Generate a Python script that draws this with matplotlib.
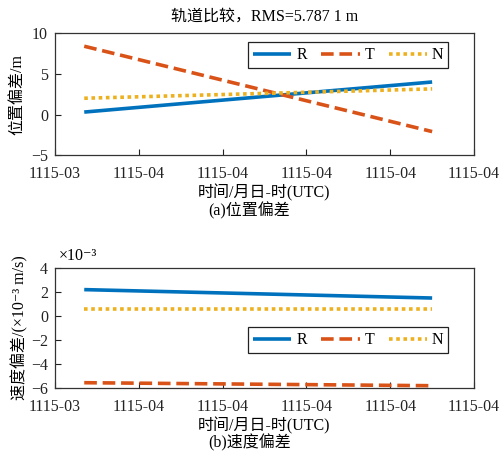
import matplotlib
matplotlib.use("Agg")
import matplotlib.pyplot as plt

plt.rcParams['font.family'] = ['Liberation Serif', 'Noto Sans CJK SC', 'DejaVu Sans']
plt.rcParams['axes.unicode_minus'] = True

# ---- data ----
tick_labels = ['1115-03', '1115-04', '1115-04', '1115-04', '1115-04', '1115-04']
t = [0.35, 4.5]                      # start / end epoch (tick units)
pos_R = [0.3, 4.0]
pos_T = [8.4, -2.1]
pos_N = [2.0, 3.15]
vel_R = [2.2, 1.5]                   # ×10^-3 m/s
vel_T = [-5.55, -5.8]
vel_N = [0.6, 0.6]
rms_text = '轨道比较，RMS=5.787 1 m'

c_R = '#0072BD'
c_T = '#D95319'
c_N = '#EDB120'
FS = 11.5

fig = plt.figure(figsize=(4.99, 4.55), dpi=100)
ax1 = fig.add_axes([0.110, 0.659, 0.840, 0.268])
ax2 = fig.add_axes([0.110, 0.147, 0.840, 0.264])

def style(ax):
    ax.set_xlim(0, 5)
    ax.set_xticks(range(6))
    ax.set_xticklabels(tick_labels, fontsize=FS)
    ax.tick_params(direction='in', length=4, width=0.8, top=False, right=False,
                   labelsize=FS, colors='#222222')
    ax.tick_params(axis='x', pad=8)
    ax.tick_params(axis='y', pad=5)
    for s in ax.spines.values():
        s.set_linewidth(0.9)
        s.set_color('#333333')

def draw(ax, R, T, N):
    ax.plot(t, R, color=c_R, lw=2.6, label='R', solid_capstyle='butt')
    ax.plot(t, T, color=c_T, lw=2.6, label='T', dashes=(3.5, 1.6))
    ax.plot(t, N, color=c_N, lw=2.6, label='N', dashes=(1.0, 1.0))

def legend(ax, top):
    leg = ax.legend(ncol=3, loc='upper right', bbox_to_anchor=(0.938, top),
                    fontsize=FS, frameon=True, fancybox=False, framealpha=1,
                    edgecolor='#222222', handlelength=2.4, handletextpad=0.3,
                    columnspacing=0.9, borderpad=0.3, borderaxespad=0)
    leg.get_frame().set_linewidth(0.9)

draw(ax1, pos_R, pos_T, pos_N)
style(ax1)
ax1.set_ylim(-5, 10)
ax1.set_yticks([-5, 0, 5, 10])
ax1.set_ylabel('位置偏差/m', fontsize=FS, labelpad=4)
ax1.set_xlabel('时间/月日-时(UTC)', fontsize=FS, labelpad=1)
ax1.set_title(rms_text, fontsize=FS, pad=9)
legend(ax1, 0.925)
fig.text(0.5, 1 - 211 / 455, '(a)位置偏差', ha='center', va='center', fontsize=FS)

draw(ax2, vel_R, vel_T, vel_N)
style(ax2)
ax2.set_ylim(-6, 4)
ax2.set_yticks([-6, -4, -2, 0, 2, 4])
ax2.set_ylabel('速度偏差/(×10⁻³ m/s)', fontsize=FS, labelpad=2)
ax2.set_xlabel('时间/月日-时(UTC)', fontsize=FS, labelpad=1)
ax2.text(0.01, 1.03, '×10⁻³', transform=ax2.transAxes, fontsize=FS,
         ha='left', va='bottom')
legend(ax2, 0.505)
fig.text(0.5, 1 - 443 / 455, '(b)速度偏差', ha='center', va='center', fontsize=FS)

fig.savefig('out.png', dpi=100)
